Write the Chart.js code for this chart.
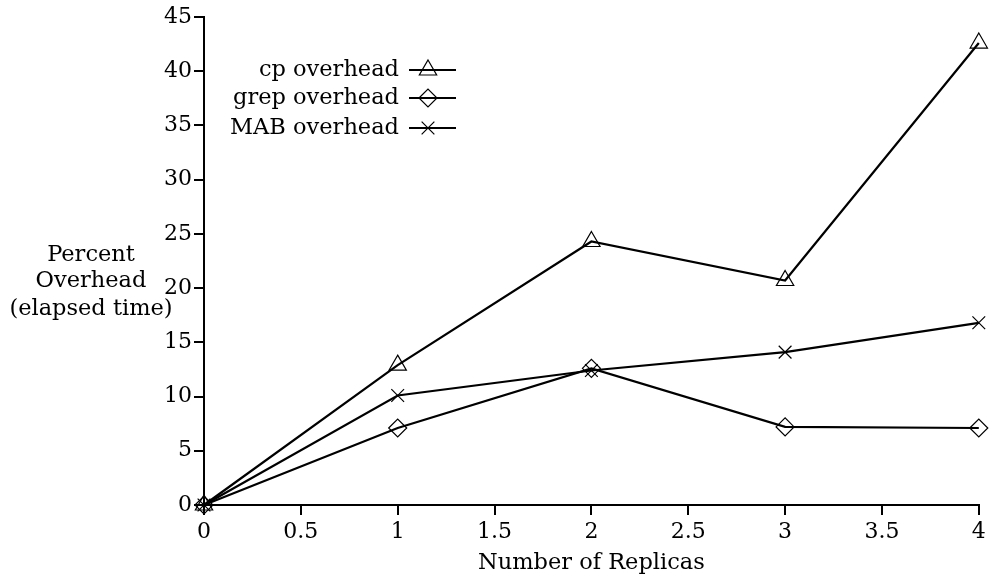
<!DOCTYPE html>
<html>
<head>
<meta charset="utf-8">
<script src="https://cdn.jsdelivr.net/npm/chart.js@4.4.1/dist/chart.umd.min.js"></script>
<style>
html,body{margin:0;padding:0;background:#fff;}
#wrap{width:990px;height:579px;position:relative;}
</style>
</head>
<body>
<div id="wrap"><canvas id="c" width="990" height="579"></canvas></div>
<script>
const replicas = [0, 1, 2, 3, 4];
const cpOverhead = [0, 12.9, 24.3, 20.7, 42.6];
const grepOverhead = [0, 7.1, 12.6, 7.2, 7.1];
const mabOverhead = [0, 10.1, 12.4, 14.1, 16.8];
const seriesLabels = ['cp overhead', 'grep overhead', 'MAB overhead'];
const yTitleLines = ['Percent', 'Overhead', '(elapsed time)'];
const xTitle = 'Number of Replicas';

const FONT = '"DejaVu Serif", "Liberation Serif", serif';
const FS = 22;
const TFS = 22.5;

function pts(ys){ return replicas.map((x,i)=>({x:x,y:ys[i]})); }

const ds = [
  {label: seriesLabels[0], data: pts(cpOverhead), pointStyle:'triangle', pointRadius:10},
  {label: seriesLabels[1], data: pts(grepOverhead), pointStyle:'rectRot', pointRadius:9},
  {label: seriesLabels[2], data: pts(mabOverhead), pointStyle:'crossRot', pointRadius:9}
].map(d=>Object.assign(d,{
  borderColor:'#000', borderWidth:2.2, backgroundColor:'rgba(0,0,0,0)',
  pointBorderColor:'#000', pointBackgroundColor:'rgba(0,0,0,0)', pointBorderWidth:1.2,
  pointHoverRadius:d.pointRadius, tension:0, fill:false, clip:false
}));

const extras = {
  id:'extras',
  afterDraw(chart){
    const ctx = chart.ctx, ca = chart.chartArea;
    ctx.save();
    ctx.fillStyle = '#000';
    ctx.font = TFS + 'px ' + FONT;
    ctx.textAlign = 'center';
    ctx.textBaseline = 'middle';
    const yl = [255, 281, 309];
    yTitleLines.forEach((t,i)=>ctx.fillText(t, 91, yl[i]));
    ctx.fillText(xTitle, (ca.left+ca.right)/2, 563);
    const ly = [70, 98, 128];
    ctx.textAlign = 'right';
    chart.data.datasets.forEach((d,i)=>{
      ctx.fillStyle = '#000';
      ctx.fillText(d.label, 399, ly[i]);
      ctx.strokeStyle = '#000';
      ctx.lineWidth = d.borderWidth;
      ctx.beginPath(); ctx.moveTo(409, ly[i]); ctx.lineTo(456, ly[i]); ctx.stroke();
      ctx.fillStyle = 'rgba(0,0,0,0)';
      ctx.lineWidth = d.pointBorderWidth;
      Chart.helpers.drawPoint(ctx, {pointStyle:d.pointStyle, radius:d.pointRadius, borderWidth:d.pointBorderWidth, rotation:0}, 428, ly[i]);
    });
    ctx.restore();
  }
};

new Chart(document.getElementById('c'), {
  type:'line',
  data:{datasets:ds},
  options:{
    responsive:false, animation:false, devicePixelRatio:1,
    layout:{padding:{left:0,right:9,top:17,bottom:0}},
    plugins:{legend:{display:false}, tooltip:{enabled:false}},
    scales:{
      x:{type:'linear', min:0, max:4,
        ticks:{stepSize:0.5, color:'#000', font:{family:FONT,size:FS}, padding:4, maxRotation:0,
          callback:v=>String(v)},
        grid:{drawOnChartArea:false, drawTicks:true, tickLength:10, color:'#000', lineWidth:2},
        border:{display:true, color:'#000', width:2},
        afterFit(s){ s.height = 74; s.paddingRight = 0; s.paddingLeft = 0; }
      },
      y:{type:'linear', min:0, max:45,
        ticks:{stepSize:5, color:'#000', font:{family:FONT,size:FS}, padding:2,
          callback:v=>String(v)},
        grid:{drawOnChartArea:false, drawTicks:true, tickLength:10, color:'#000', lineWidth:2},
        border:{display:true, color:'#000', width:2},
        afterFit(s){ s.width = 204; }
      }
    }
  },
  plugins:[extras]
});
</script>
</body>
</html>
